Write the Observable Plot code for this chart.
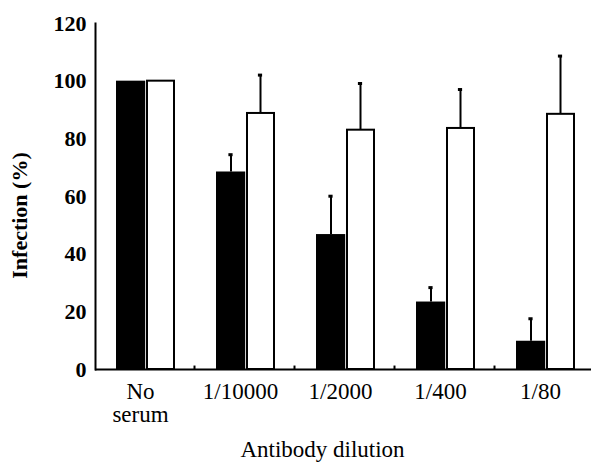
<!DOCTYPE html>
<html>
<head>
<meta charset="utf-8">
<script src="https://cdn.jsdelivr.net/npm/d3@7"></script>
<script src="https://cdn.jsdelivr.net/npm/@observablehq/plot@0.6"></script>
<style>
  html, body { margin: 0; padding: 0; background: white; }
  svg text { font-family: 'Liberation Serif', 'Times New Roman', serif; }
</style>
</head>
<body>
<div id="chart"></div>
<script>
const categories = ["No\nserum", "1/10000", "1/2000", "1/400", "1/80"];
const treated = [100, 68.5, 46.8, 23.4, 9.8];      // black bars
const treatedErr = [0, 6.0, 13.3, 5.0, 7.8];
const control = [100, 88.8, 83.0, 83.6, 88.5];     // white bars
const controlErr = [0, 13.3, 16.2, 13.5, 20.2];
const yTicks = [0, 20, 40, 60, 80, 100, 120];
const yLabel = "Infection (%)";
const xLabel = "Antibody dilution";

const idx = categories.map((_, i) => i);
const tErr = idx.filter(i => treatedErr[i] > 0);
const cErr = idx.filter(i => controlErr[i] > 0);
const font = "'Liberation Serif', 'Times New Roman', serif";

const chart = Plot.plot({
  width: 591,
  height: 470,
  marginLeft: 95,
  marginRight: 0,
  marginTop: 23,
  marginBottom: 101,
  style: "font-family: 'Liberation Serif', 'Times New Roman', serif; font-size: 22px; background: white; color: black;",
  x: {domain: categories, range: [93, 597], padding: 0},
  y: {domain: [0, 120]},
  marks: [
    Plot.barY(idx, {x: i => categories[i], y: i => treated[i], fill: "black", insetLeft: 21, insetRight: 49.8}),
    Plot.barY(idx, {x: i => categories[i], y: i => control[i], fill: "white", stroke: "black", strokeWidth: 2, insetLeft: 52, insetRight: 21}),
    Plot.ruleX(tErr, {x: i => categories[i], y1: i => treated[i], y2: i => treated[i] + treatedErr[i], dx: -14.5, strokeWidth: 2}),
    Plot.tickY(tErr, {x: i => categories[i], y: i => treated[i] + treatedErr[i], dx: -14.5, insetLeft: 47.9, insetRight: 47.9, strokeWidth: 3}),
    Plot.ruleX(cErr, {x: i => categories[i], y1: i => control[i], y2: i => control[i] + controlErr[i], dx: 15, strokeWidth: 2}),
    Plot.tickY(cErr, {x: i => categories[i], y: i => control[i] + controlErr[i], dx: 15, insetLeft: 47.9, insetRight: 47.9, strokeWidth: 3}),
    Plot.ruleX(categories.slice(1), {x: d => d, y1: 0, y2: 1.2, dx: -51, strokeWidth: 2}),
    Plot.ruleY([0], {strokeWidth: 2}),
    Plot.frame({anchor: "left", strokeWidth: 2}),
    Plot.axisY({ticks: yTicks, tickSize: 0, tickPadding: 9, fontWeight: "bold", fontSize: 22, fontFamily: font, label: null}),
    Plot.axisX({tickSize: 0, tickPadding: 13, fontSize: 23, fontFamily: font, lineHeight: 1.0, dx: -5, label: null}),
    Plot.text([yLabel], {frameAnchor: "left", textAnchor: "middle", rotate: -90, dx: -76, dy: 19, fontWeight: "bold", fontSize: 22, fontFamily: font}),
    Plot.text([xLabel], {frameAnchor: "bottom", textAnchor: "middle", dx: -21, dy: 87, fontSize: 23, fontFamily: font})
  ]
});
document.getElementById("chart").appendChild(chart);
</script>
</body>
</html>
